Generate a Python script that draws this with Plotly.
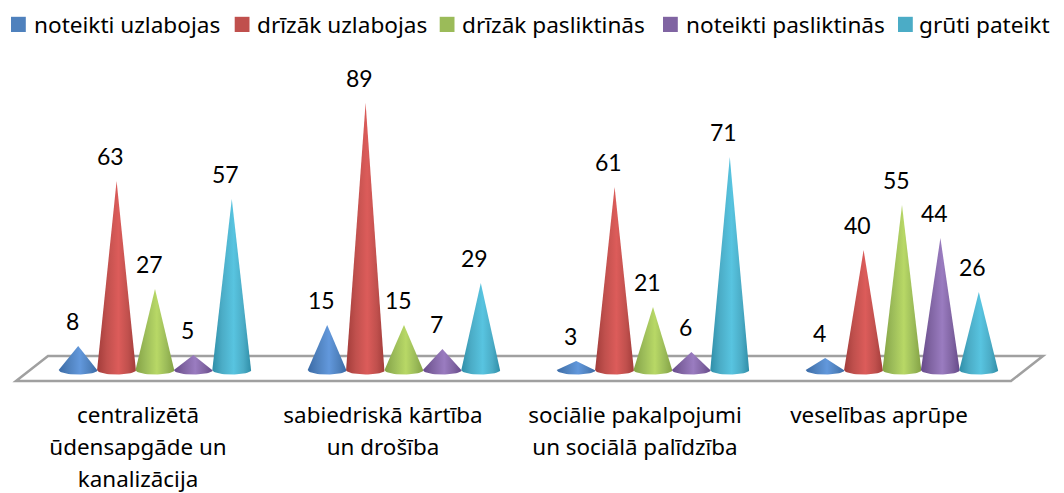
import numpy as np
import plotly.graph_objects as go

categories = [
    ["centralizētā", "ūdensapgāde un", "kanalizācija"],
    ["sabiedriskā kārtība", "un drošība"],
    ["sociālie pakalpojumi", "un sociālā palīdzība"],
    ["veselības aprūpe"],
]
series_names = ["noteikti uzlabojas", "drīzāk uzlabojas", "drīzāk pasliktinās", "noteikti pasliktinās", "grūti pateikt"]
noteikti_uzlabojas = [8, 15, 3, 4]
drizak_uzlabojas = [63, 89, 61, 40]
drizak_pasliktinas = [27, 15, 21, 55]
noteikti_pasliktinas = [5, 7, 6, 44]
gruti_pateikt = [57, 29, 71, 26]
series_values = [noteikti_uzlabojas, drizak_uzlabojas, drizak_pasliktinas, noteikti_pasliktinas, gruti_pateikt]
base_colors = ["#4f81bd", "#c0504d", "#9bbb59", "#8064a2", "#4bacc6"]
dark_colors = ["#3a6aa6", "#a23c3a", "#84a244", "#66498a", "#2f8ea8"]
light_colors = ["#6298dc", "#dc5c5a", "#b8d866", "#9a7cc0", "#58c4e0"]

W, H = 1064, 493
PLOT_BOTTOM = 397
Y0_PX = 370
PX_PER_UNIT = 3.0
GROUP_PX = 249
FIRST_GROUP_PX = 155
STEP = 38.4 / GROUP_PX
HALF_W = 19.5 / GROUP_PX
ELL_H = 4.5 / PX_PER_UNIT
TICK_PX = np.array([138, 383, 635, 879])
LEGEND_SWATCH_PX = [11, 234.7, 439.7, 663, 898]
LEGEND_TEXT_PX = [33, 256, 461, 685, 918]

fig = go.Figure()

# floor parallelogram
fx = [16, 1011, 1043, 48, 16]
fy = [381, 381, 356, 356, 381]
fig.add_shape(
    type="path",
    xref="paper", yref="paper",
    path="M " + " L ".join(f"{x / W:.5f},{1 - y / H:.5f}" for x, y in zip(fx, fy)) + " Z",
    line=dict(color="#a0a0a0", width=2.5),
    fillcolor="#ffffff",
    layer="below",
)

theta = np.linspace(0, np.pi, 25)
for s, (name, vals) in enumerate(zip(series_names, series_values)):
    for g, v in enumerate(vals):
        cx = g + (s - 2) * STEP
        xs = [cx] + list(cx + HALF_W * np.cos(theta)) + [cx]
        ys = [v] + list(-ELL_H * np.sin(theta)) + [v]
        fig.add_trace(go.Scatter(
            x=xs, y=ys, mode="lines", fill="toself", name=name,
            line=dict(width=0, color=base_colors[s]),
            fillgradient=dict(
                type="horizontal",
                colorscale=[[0, dark_colors[s]], [0.25, base_colors[s]], [0.55, light_colors[s]],
                            [0.8, base_colors[s]], [1, dark_colors[s]]],
            ),
            showlegend=False, hoverinfo="skip",
        ))
        fig.add_annotation(
            x=cx, y=v, text=str(v), showarrow=False,
            xshift=-6, yshift=25, yanchor="middle", xanchor="center",
            font=dict(family="Lato", size=23, color="#000000"),
        )
    # legend entry
    fig.add_shape(
        type="rect", xref="paper", yref="paper",
        x0=LEGEND_SWATCH_PX[s] / W, x1=(LEGEND_SWATCH_PX[s] + 14.8) / W,
        y0=1 - 32 / H, y1=1 - 16.8 / H,
        fillcolor=base_colors[s], line=dict(width=0),
    )
    fig.add_annotation(
        xref="paper", yref="paper", x=LEGEND_TEXT_PX[s] / W, y=1 - 25 / H,
        text=name, showarrow=False, xanchor="left", yanchor="middle",
        xshift=-1,
        font=dict(family="Noto Sans", size=22.6, color="#000000"),
    )

ticktext = ["<br>".join(f'<span style="font-size:22.4px">{ln}</span>' for ln in c) for c in categories]

fig.update_layout(
    width=W, height=H, autosize=False,
    margin=dict(l=0, r=0, t=0, b=0),
    paper_bgcolor="#ffffff", plot_bgcolor="rgba(0,0,0,0)",
    showlegend=False,
    xaxis=dict(
        range=[-FIRST_GROUP_PX / GROUP_PX, (W - FIRST_GROUP_PX) / GROUP_PX],
        tickvals=list((TICK_PX - FIRST_GROUP_PX) / GROUP_PX), ticktext=ticktext,
        tickfont=dict(family="Noto Sans", size=24.6, color="#000000"),
        showgrid=False, zeroline=False, showline=False, ticks="",
        tickangle=0, anchor="y",
    ),
    yaxis=dict(
        domain=[1 - PLOT_BOTTOM / H, 1],
        range=[-(PLOT_BOTTOM - Y0_PX) / PX_PER_UNIT, Y0_PX / PX_PER_UNIT],
        visible=False, showgrid=False, zeroline=False,
    ),
)

fig.write_html("out.html", post_script="document.body.style.margin='0';",
               config={"displayModeBar": False})
